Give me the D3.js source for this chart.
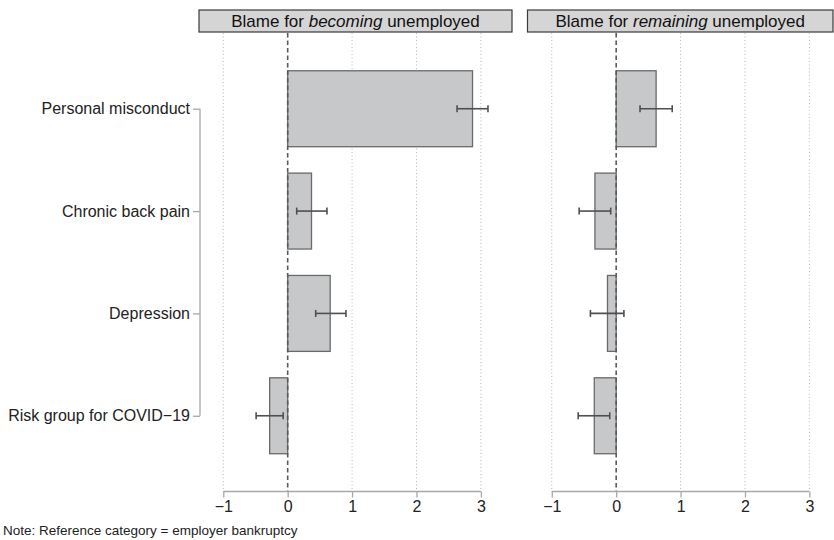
<!DOCTYPE html>
<html>
<head>
<meta charset="utf-8">
<script src="https://cdn.jsdelivr.net/npm/d3@7"></script>
<style>
  html, body { margin: 0; padding: 0; background: #fff; }
  svg { display: block; font-family: "Liberation Sans", Arial, Helvetica, sans-serif; }
</style>
</head>
<body>
<svg id="chart" width="834" height="540"></svg>
<script>
// Reasons for job loss, compared with employer bankruptcy
const categories = ["Personal misconduct", "Chronic back pain", "Depression", "Risk group for COVID\u221219"];

// Blame for becoming unemployed: estimate and confidence bounds
const becomingEst = [2.87, 0.37, 0.66, -0.28];
const becomingLo  = [2.63, 0.14, 0.435, -0.49];
const becomingHi  = [3.11, 0.61, 0.905, -0.07];

// Blame for remaining unemployed: estimate and confidence bounds
const remainingEst = [0.62, -0.33, -0.135, -0.34];
const remainingLo  = [0.37, -0.575, -0.40, -0.59];
const remainingHi  = [0.87, -0.085, 0.12, -0.10];

const panelTitles = [
  ["Blame for ", "becoming", " unemployed"],
  ["Blame for ", "remaining", " unemployed"]
];
const xTicks = [-1, 0, 1, 2, 3];
const noteText = "Note: Reference category = employer bankruptcy";

const svg = d3.select("#chart");
const W = 834;

const stripTop = 10, stripH = 22;
const plotTop = 33, plotBottom = 491.5;
const panelW = 313;
const panelLefts = [199, 527.5];
const xDomain = [-1.377, 3.483];

const y = d3.scalePoint()
  .domain(categories)
  .range([plotTop, plotBottom])
  .padding(0.74);
const barH = y.step() * 0.742;

const gridColor = "#b8b8b8";
const darkLine = "#5a5a5a";
const fontStack = "\"Liberation Sans\", Arial, sans-serif";

// Shared category axis on the left
const yAxisX = panelLefts[0] + 1;
const yAxis = svg.append("g")
  .attr("transform", `translate(${yAxisX},0)`)
  .call(d3.axisLeft(y).tickSize(7).tickPadding(3));
yAxis.select(".domain")
  .attr("d", `M0,${y(categories[0])}V${y(categories[categories.length - 1])}`)
  .attr("stroke", "#a8a8a8").attr("stroke-width", 1.3);
yAxis.selectAll(".tick line").attr("stroke", "#a8a8a8").attr("stroke-width", 1.3);
yAxis.selectAll(".tick text")
  .attr("fill", "#222").style("font-size", "16px")
  .style("font-family", fontStack);

const panels = [
  { est: becomingEst, lo: becomingLo, hi: becomingHi },
  { est: remainingEst, lo: remainingLo, hi: remainingHi }
];

panels.forEach((p, i) => {
  const left = panelLefts[i];
  const x = d3.scaleLinear().domain(xDomain).range([left, left + panelW]);
  const g = svg.append("g");

  // Strip header
  const stripRight = Math.min(left + panelW, W - 1);
  g.append("rect")
    .attr("x", left).attr("y", stripTop)
    .attr("width", stripRight - left).attr("height", stripH)
    .attr("fill", "#d5d5d5").attr("stroke", "#3a3a3a").attr("stroke-width", 1.2);
  const t = panelTitles[i];
  const title = g.append("text")
    .attr("x", (left + stripRight) / 2).attr("y", stripTop + stripH / 2 + 6)
    .attr("text-anchor", "middle")
    .attr("fill", "#111").style("font-size", "17px");
  title.append("tspan").text(t[0]);
  title.append("tspan").style("font-style", "italic").text(t[1]);
  title.append("tspan").text(t[2]);

  // Dotted gridlines
  g.selectAll(".grid")
    .data(xTicks.filter(v => v !== 0))
    .join("line")
    .attr("x1", d => x(d)).attr("x2", d => x(d))
    .attr("y1", plotTop).attr("y2", plotBottom - 1)
    .attr("stroke", gridColor).attr("stroke-width", 1)
    .attr("stroke-dasharray", "1,2.5");

  // Bars
  g.selectAll(".bar")
    .data(categories)
    .join("rect")
    .attr("x", (d, k) => x(Math.min(0, p.est[k])))
    .attr("width", (d, k) => Math.abs(x(p.est[k]) - x(0)))
    .attr("y", d => y(d) - barH / 2)
    .attr("height", barH)
    .attr("fill", "#c7c8ca").attr("stroke", "#6a6a6a").attr("stroke-width", 1.3);

  // Reference line at zero
  g.append("line")
    .attr("x1", x(0)).attr("x2", x(0))
    .attr("y1", plotTop).attr("y2", plotBottom)
    .attr("stroke", darkLine).attr("stroke-width", 1.6)
    .attr("stroke-dasharray", "4.5,3");

  // Confidence intervals
  const capH = 7;
  categories.forEach((c, k) => {
    const cy = y(c);
    const eg = g.append("g").attr("stroke", "#4f4f4f").attr("stroke-width", 1.6);
    eg.append("line").attr("x1", x(p.lo[k])).attr("x2", x(p.hi[k])).attr("y1", cy).attr("y2", cy);
    eg.append("line").attr("x1", x(p.lo[k])).attr("x2", x(p.lo[k])).attr("y1", cy - capH / 2).attr("y2", cy + capH / 2);
    eg.append("line").attr("x1", x(p.hi[k])).attr("x2", x(p.hi[k])).attr("y1", cy - capH / 2).attr("y2", cy + capH / 2);
  });

  // Bottom value axis
  const ax = svg.append("g")
    .attr("transform", `translate(0,${plotBottom})`)
    .call(d3.axisBottom(x).tickValues(xTicks).tickSize(6).tickPadding(3)
      .tickFormat(d => d < 0 ? "\u2212" + Math.abs(d) : String(d)));
  ax.select(".domain")
    .attr("d", `M${x(xTicks[0])},0H${x(xTicks[xTicks.length - 1])}`)
    .attr("stroke", "#a8a8a8").attr("stroke-width", 1.3);
  ax.selectAll(".tick line").attr("stroke", "#a8a8a8").attr("stroke-width", 1.3);
  ax.selectAll(".tick text")
    .attr("fill", "#222").style("font-size", "16px")
    .style("font-family", fontStack);
});

svg.append("text")
  .attr("x", 3).attr("y", 535)
  .attr("fill", "#222").style("font-size", "13.5px")
  .text(noteText);
</script>
</body>
</html>
